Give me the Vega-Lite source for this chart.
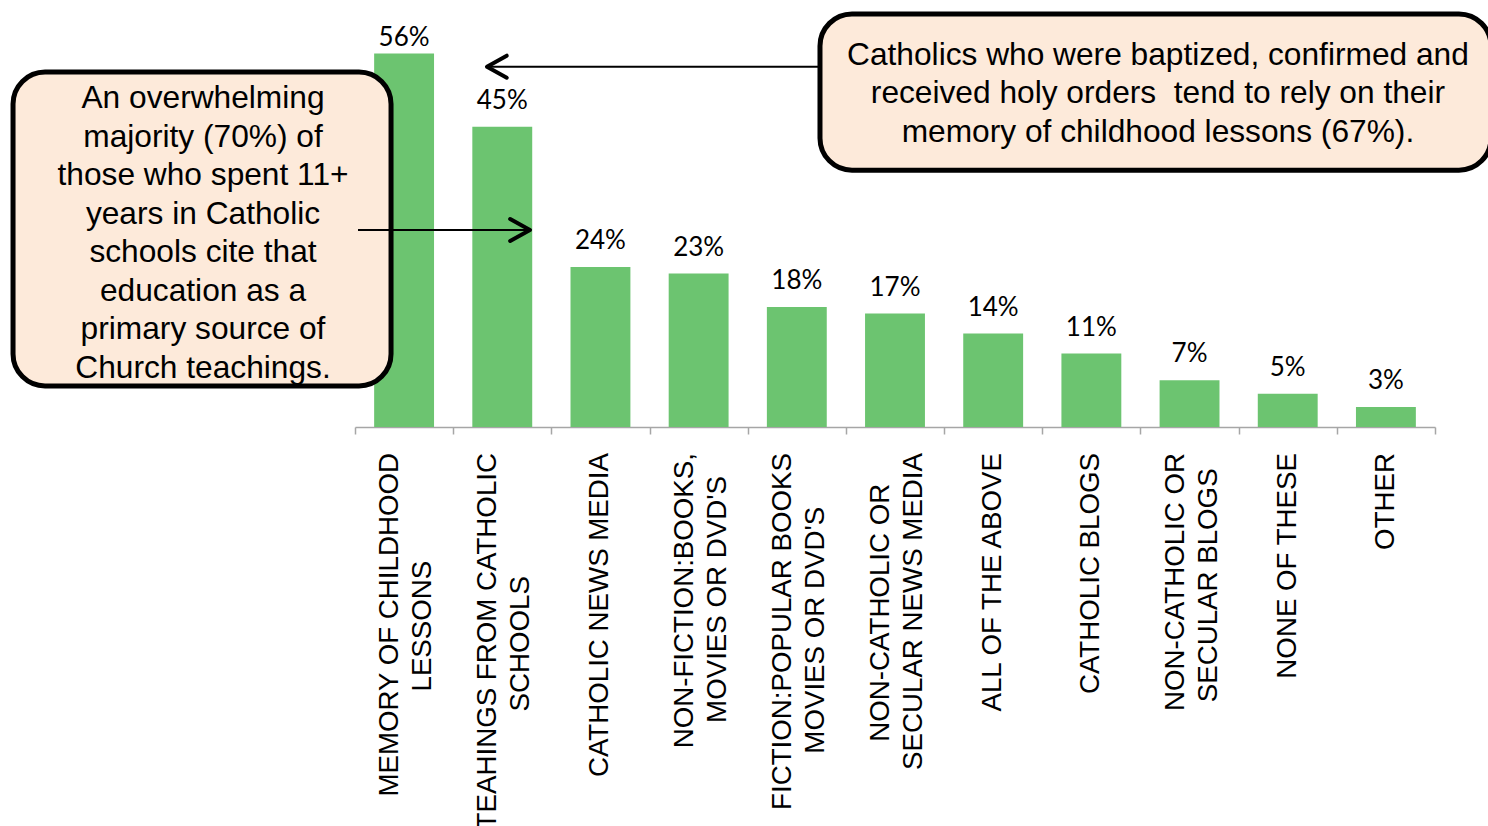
{
  "$schema": "https://vega.github.io/schema/vega-lite/v6.json",
  "width": 1488,
  "height": 427,
  "autosize": "none",
  "padding": {"left": 0, "top": 0, "right": 0, "bottom": 399},
  "background": "white",
  "config": {"view": {"stroke": null}},
  "datasets": {
    "bars": [
      {"category": "MEMORY OF CHILDHOOD\nLESSONS\u00a0\u00a0\u00a0\u00a0\u00a0\u00a0\u00a0\u00a0\u00a0\u00a0\u00a0\u00a0\u00a0\u00a0\u200b", "value": 0.56},
      {"category": "TEAHINGS FROM CATHOLIC\nSCHOOLS\u00a0\u00a0\u00a0\u00a0\u00a0\u00a0\u00a0\u00a0\u00a0\u00a0\u00a0\u00a0\u00a0\u00a0\u00a0\u00a0\u200b", "value": 0.45},
      {"category": "CATHOLIC NEWS MEDIA", "value": 0.24},
      {"category": "NON-FICTION:BOOKS,\nMOVIES OR DVD'S\u00a0\u00a0\u00a0\u200b", "value": 0.23},
      {"category": "FICTION:POPULAR BOOKS\nMOVIES OR DVD'S\u00a0\u00a0\u00a0\u00a0\u00a0\u00a0\u00a0\u200b", "value": 0.18},
      {"category": "NON-CATHOLIC OR\u00a0\u00a0\u00a0\u00a0\u200b\nSECULAR NEWS MEDIA", "value": 0.17},
      {"category": "ALL OF THE ABOVE", "value": 0.14},
      {"category": "CATHOLIC BLOGS", "value": 0.11},
      {"category": "NON-CATHOLIC OR\nSECULAR BLOGS\u00a0\u00a0\u200b", "value": 0.07},
      {"category": "NONE OF THESE", "value": 0.05},
      {"category": "OTHER", "value": 0.03}
    ],
    "boxes": [
      {"box": "left", "x": -3.483, "x2": 0.367, "y": 0.532, "y2": 0.0615, "tx": -1.548, "ty": 0.4931, "text": "An overwhelming\nmajority (70%) of\nthose who spent 11+\nyears in Catholic\nschools cite that\neducation as a\nprimary source of\nChurch teachings."},
      {"box": "right", "x": 4.736, "x2": 11.57, "y": 0.619, "y2": 0.385, "tx": 8.178, "ty": 0.5576, "text": "Catholics who were baptized, confirmed and\nreceived holy orders\u00a0 tend to rely on their\nmemory of childhood lessons (67%)."}
    ],
    "arrows": [
      {"arrow": "left", "from": 4.716, "to": 1.344, "y": 0.54},
      {"arrow": "right", "from": 0.0306, "to": 1.782, "y": 0.2953}
    ]
  },
  "layer": [
    {
      "data": {"name": "bars"},
      "encoding": {
        "x": {
          "field": "category", "type": "nominal", "sort": null,
          "scale": {"range": [355, 1435], "paddingInner": 0, "paddingOuter": 0},
          "axis": {
            "title": null,
            "labels": false,
            "tickSize": 7,
            "tickColor": "#A6A6A6",
            "tickWidth": 1.5,
            "domainColor": "#A6A6A6",
            "domainWidth": 1.5,
            "tickBand": "extent",
            "grid": false
          }
        },
        "y": {"field": "value", "type": "quantitative", "scale": {"domain": [0, 0.64], "nice": false, "zero": true}, "axis": null}
      },
      "layer": [
        {"mark": {"type": "bar", "color": "#6CC470", "width": {"band": 0.61}}},
        {
          "transform": [{"filter": "datum.value < 0.5"}],
          "mark": {"type": "text", "font": "Lato", "fontSize": 26, "baseline": "alphabetic", "dy": -18, "color": "black"},
          "encoding": {"text": {"field": "value", "type": "quantitative", "format": ".0%"}}
        },
        {
          "transform": [{"filter": "datum.value >= 0.5"}],
          "mark": {"type": "text", "font": "Lato", "fontSize": 26, "baseline": "alphabetic", "dy": -7, "color": "black"},
          "encoding": {"text": {"field": "value", "type": "quantitative", "format": ".0%"}}
        },
        {
          "transform": [{"filter": "indexof(datum.category, '\\n') < 0"}],
          "mark": {"type": "text", "angle": 270, "align": "right", "baseline": "middle", "dx": -26, "dy": 0, "font": "Liberation Sans", "fontSize": 27.7, "lineHeight": 33, "lineBreak": "\n", "color": "black"},
          "encoding": {
            "y": {"datum": 0, "type": "quantitative"},
            "text": {"field": "category"}
          }
        },
        {
          "transform": [{"filter": "indexof(datum.category, '\\n') >= 0"}],
          "mark": {"type": "text", "angle": 270, "align": "right", "baseline": "middle", "dx": -26, "dy": -14, "font": "Liberation Sans", "fontSize": 27.7, "lineHeight": 33, "lineBreak": "\n", "color": "black"},
          "encoding": {
            "y": {"datum": 0, "type": "quantitative"},
            "text": {"field": "category"}
          }
        }
      ]
    },
    {
      "layer": [
        {
          "data": {"name": "boxes"},
          "mark": {"type": "rect", "fill": "#FDEADA", "stroke": "black", "strokeWidth": 5, "cornerRadius": 32},
          "encoding": {
            "x": {"field": "x", "type": "quantitative", "scale": {"domain": [0, 11], "range": [355, 1435], "nice": false, "zero": false}, "axis": null},
            "x2": {"field": "x2"},
            "y": {"field": "y", "type": "quantitative", "scale": {"domain": [0, 0.64], "nice": false, "zero": true}, "axis": null},
            "y2": {"field": "y2"}
          }
        },
        {
          "data": {"name": "boxes"},
          "mark": {"type": "text", "font": "Liberation Sans", "fontSize": 31.7, "lineHeight": 38.5, "lineBreak": "\n", "align": "center", "baseline": "middle", "color": "black"},
          "encoding": {
            "x": {"field": "tx", "type": "quantitative", "scale": {"domain": [0, 11], "range": [355, 1435], "nice": false, "zero": false}, "axis": null},
            "y": {"field": "ty", "type": "quantitative", "scale": {"domain": [0, 0.64], "nice": false, "zero": true}, "axis": null},
            "text": {"field": "text"}
          }
        },
        {
          "data": {"name": "arrows"},
          "mark": {"type": "rule", "color": "black", "strokeWidth": 2},
          "encoding": {
            "x": {"field": "from", "type": "quantitative", "scale": {"domain": [0, 11], "range": [355, 1435], "nice": false, "zero": false}, "axis": null},
            "x2": {"field": "to"},
            "y": {"field": "y", "type": "quantitative", "scale": {"domain": [0, 0.64], "nice": false, "zero": true}, "axis": null}
          }
        },
        {
          "data": {"name": "arrows"},
          "transform": [{"filter": "datum.arrow == 'left'"}],
          "mark": {"type": "point", "shape": "M1.8,-1L0,0L1.8,1", "size": 484, "filled": false, "stroke": "black", "strokeWidth": 4, "strokeCap": "round", "strokeJoin": "round", "opacity": 1},
          "encoding": {
            "x": {"field": "to", "type": "quantitative", "scale": {"domain": [0, 11], "range": [355, 1435], "nice": false, "zero": false}, "axis": null},
            "y": {"field": "y", "type": "quantitative", "scale": {"domain": [0, 0.64], "nice": false, "zero": true}, "axis": null}
          }
        },
        {
          "data": {"name": "arrows"},
          "transform": [{"filter": "datum.arrow == 'right'"}],
          "mark": {"type": "point", "shape": "M-1.8,-1L0,0L-1.8,1", "size": 484, "filled": false, "stroke": "black", "strokeWidth": 4, "strokeCap": "round", "strokeJoin": "round", "opacity": 1},
          "encoding": {
            "x": {"field": "to", "type": "quantitative", "scale": {"domain": [0, 11], "range": [355, 1435], "nice": false, "zero": false}, "axis": null},
            "y": {"field": "y", "type": "quantitative", "scale": {"domain": [0, 0.64], "nice": false, "zero": true}, "axis": null}
          }
        }
      ]
    }
  ],
  "resolve": {"scale": {"x": "independent"}}
}
